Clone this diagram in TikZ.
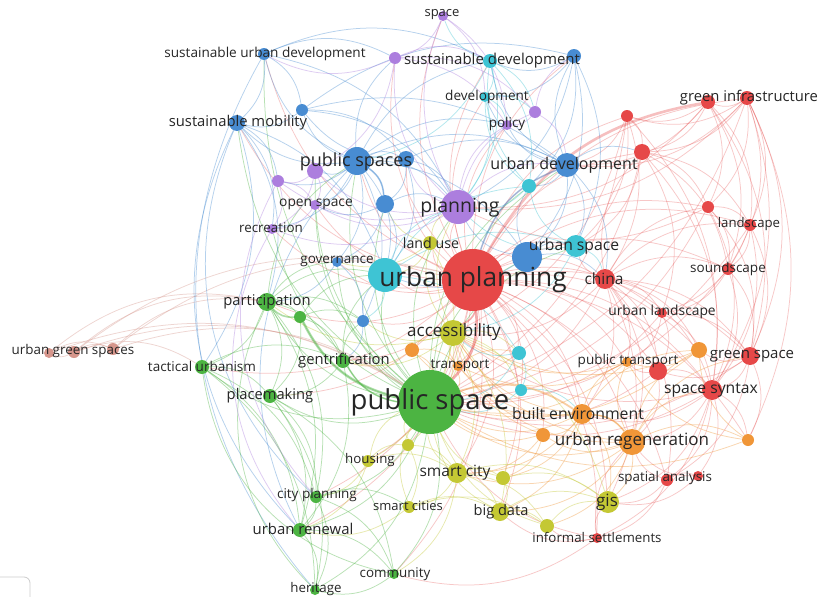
\documentclass[tikz,border=0pt]{standalone}
\usepackage{fontspec}
\setmainfont{Open Sans}
\usetikzlibrary{backgrounds}
\definecolor{vred}{RGB}{230,72,72}
\definecolor{vgreen}{RGB}{76,180,66}
\definecolor{vblue}{RGB}{72,140,210}
\definecolor{vyellow}{RGB}{196,200,52}
\definecolor{vpurple}{RGB}{172,126,222}
\definecolor{vcyan}{RGB}{62,196,212}
\definecolor{vorange}{RGB}{240,150,56}
\definecolor{vbrown}{RGB}{214,150,140}
\tikzset{%
  kw/.style     = {circle, inner sep=0pt, minimum size=#1},%
  lbl/.style    = {inner sep=0pt, text=black!85, font=\fontsize{#1}{#1}\selectfont},%
  link/.style   = {line width=0.75pt, opacity=0.4, bend left=25},%
  strong/.style = {line width=2.6pt, opacity=0.45, bend left=25}%
}

\begin{document}
\begin{tikzpicture}[x=1pt,y=-1pt]
  \useasboundingbox (0,0) rectangle (820,597);
  % red cluster
  \node[kw=62, fill=vred] (up) at (473,280) {};
  \node[kw=20, fill=vred] (china) at (605,279) {};
  \node[kw=14, fill=vred] (gi) at (747,98) {};
  \node[kw=14, fill=vred] (r1) at (708,102) {};
  \node[kw=12, fill=vred] (r2) at (627,116) {};
  \node[kw=16, fill=vred] (r3) at (642,152) {};
  \node[kw=12, fill=vred] (r4) at (708,207) {};
  \node[kw=12, fill=vred] (land) at (750,225) {};
  \node[kw=12, fill=vred] (sound) at (728,269) {};
  \node[kw=10, fill=vred] (ul) at (662,313) {};
  \node[kw=18, fill=vred] (gs) at (750,356) {};
  \node[kw=18, fill=vred] (r5) at (658,371) {};
  \node[kw=20, fill=vred] (ss) at (712,390) {};
  \node[kw=12, fill=vred] (sa) at (667,480) {};
  \node[kw=10, fill=vred] (r6) at (698,476) {};
  \node[kw=10, fill=vred] (is) at (597,538) {};
  % orange cluster
  \node[kw=20, fill=vorange] (be) at (582,414) {};
  \node[kw=26, fill=vorange] (ur) at (632,442) {};
  \node[kw=14, fill=vorange] (o1) at (543,435) {};
  \node[kw=12, fill=vorange] (o2) at (748,440) {};
  \node[kw=16, fill=vorange] (o3) at (699,350) {};
  \node[kw=10, fill=vorange] (pt) at (627,362) {};
  \node[kw=14, fill=vorange] (o4) at (412,350) {};
  \node[kw=10, fill=vorange] (tr) at (458,366) {};
  % yellow cluster
  \node[kw=26, fill=vyellow] (acc) at (453,333) {};
  \node[kw=14, fill=vyellow] (lu) at (430,243) {};
  \node[kw=12, fill=vyellow] (hous) at (368,461) {};
  \node[kw=12, fill=vyellow] (y1) at (408,445) {};
  \node[kw=20, fill=vyellow] (sc) at (457,473) {};
  \node[kw=14, fill=vyellow] (y2) at (503,478) {};
  \node[kw=12, fill=vyellow] (scs) at (409,507) {};
  \node[kw=18, fill=vyellow] (bd) at (500,512) {};
  \node[kw=14, fill=vyellow] (y3) at (547,526) {};
  \node[kw=22, fill=vyellow] (gis) at (608,502) {};
  % green cluster
  \node[kw=64, fill=vgreen] (ps) at (430,402) {};
  \node[kw=18, fill=vgreen] (part) at (267,302) {};
  \node[kw=12, fill=vgreen] (g1) at (300,317) {};
  \node[kw=14, fill=vgreen] (gent) at (343,361) {};
  \node[kw=14, fill=vgreen] (tu) at (202,367) {};
  \node[kw=14, fill=vgreen] (pm) at (270,396) {};
  \node[kw=12, fill=vgreen] (cp) at (316,497) {};
  \node[kw=14, fill=vgreen] (ren) at (300,530) {};
  \node[kw=10, fill=vgreen] (com) at (394,574) {};
  \node[kw=10, fill=vgreen] (her) at (315,590) {};
  % blue cluster
  \node[kw=28, fill=vblue] (pss) at (357,161) {};
  \node[kw=16, fill=vblue] (b1) at (406,159) {};
  \node[kw=18, fill=vblue] (b2) at (385,204) {};
  \node[kw=10, fill=vblue] (gov) at (337,262) {};
  \node[kw=12, fill=vblue] (b3) at (363,321) {};
  \node[kw=24, fill=vblue] (ud) at (567,165) {};
  \node[kw=30, fill=vblue] (b4) at (527,257) {};
  \node[kw=12, fill=vblue] (sud) at (264,54) {};
  \node[kw=12, fill=vblue] (b5) at (302,110) {};
  \node[kw=16, fill=vblue] (sm) at (237,123) {};
  \node[kw=14, fill=vblue] (b6) at (574,56) {};
  % cyan cluster
  \node[kw=34, fill=vcyan] (c0) at (385,275) {};
  \node[kw=22, fill=vcyan] (us) at (576,246) {};
  \node[kw=14, fill=vcyan] (c1) at (529,186) {};
  \node[kw=14, fill=vcyan] (sd) at (490,61) {};
  \node[kw=10, fill=vcyan] (dev) at (485,97) {};
  \node[kw=14, fill=vcyan] (c2) at (519,353) {};
  \node[kw=12, fill=vcyan] (c3) at (521,390) {};
  % purple cluster
  \node[kw=34, fill=vpurple] (pl) at (458,207) {};
  \node[kw=10, fill=vpurple] (space) at (443,16) {};
  \node[kw=12, fill=vpurple] (p1) at (395,58) {};
  \node[kw=12, fill=vpurple] (p2) at (535,112) {};
  \node[kw=10, fill=vpurple] (pol) at (507,125) {};
  \node[kw=16, fill=vpurple] (p3) at (315,171) {};
  \node[kw=12, fill=vpurple] (p4) at (278,181) {};
  \node[kw=10, fill=vpurple] (os) at (315,205) {};
  \node[kw=10, fill=vpurple] (rec) at (272,229) {};
  % brown cluster
  \node[kw=12, fill=vbrown] (ugs) at (74,352) {};
  \node[kw=10, fill=vbrown] (br1) at (49,353) {};
  \node[kw=12, fill=vbrown] (br2) at (113,349) {};

  % labels
  \node[lbl=26.3] (upt) at (up) {urban planning};
  \node[lbl=27.5] (pst) at (ps) {public space};
  \node[lbl=19.5] (plt) at (460,207) {planning};
  \node[lbl=18] (psst) at (356,162) {public spaces};
  \node[lbl=16] (udt) at (564,165) {urban development};
  \node[lbl=17] (urt) at (632,441) {urban regeneration};
  \node[lbl=17] (acct) at (454,332) {accessibility};
  \node[lbl=15.7] (ust) at (574,246) {urban space};
  \node[lbl=15.5] (sct) at (455,473) {smart city};
  \node[lbl=15.7] (sst) at (711,390) {space syntax};
  \node[lbl=15.8] (bet) at (578,414) {built environment};
  \node[lbl=17] (gist) at (607,502) {gis};
  \node[lbl=15.5] (chinat) at (604,279) {china};
  \node[lbl=15] (gst) at (752,356) {green space};
  \node[lbl=14.6] (bdt) at (501,512) {big data};
  \node[lbl=14.8] (git) at (749,98) {green infrastructure};
  \node[lbl=15] (sdt) at (492,61) {sustainable development};
  \node[lbl=14.8] (smt) at (238,123) {sustainable mobility};
  \node[lbl=14.8] (partt) at (267,302) {participation};
  \node[lbl=14.8] (gentt) at (344,361) {gentrification};
  \node[lbl=14.7] (pmt) at (270,396) {placemaking};
  \node[lbl=13.5] (tut) at (202,366) {tactical urbanism};
  \node[lbl=13.4] (ugst) at (73,351) {urban green spaces};
  \node[lbl=14.2] (lut) at (431,243) {land use};
  \node[lbl=13.5] (govt) at (337,261) {governance};
  \node[lbl=13.8] (ost) at (316,204) {open space};
  \node[lbl=13.4] (rect) at (271,228) {recreation};
  \node[lbl=13.6] (sudt) at (265,54) {sustainable urban development};
  \node[lbl=13] (spacet) at (442,15) {space};
  \node[lbl=13.6] (devt) at (487,97) {development};
  \node[lbl=13.5] (polt) at (507,124) {policy};
  \node[lbl=13.8] (ult) at (662,312) {urban landscape};
  \node[lbl=13.5] (ptt) at (628,361) {public transport};
  \node[lbl=13.5] (soundt) at (728,269) {soundscape};
  \node[lbl=13.2] (landt) at (749,224) {landscape};
  \node[lbl=13.5] (trt) at (460,366) {transport};
  \node[lbl=13.4] (sat) at (665,478) {spatial analysis};
  \node[lbl=13.3] (ist) at (597,537) {informal settlements};
  \node[lbl=13.3] (houst) at (370,460) {housing};
  \node[lbl=13] (scst) at (408,506) {smart cities};
  \node[lbl=13.5] (cpt) at (317,495) {city planning};
  \node[lbl=14.9] (rent) at (303,529) {urban renewal};
  \node[lbl=13.4] (comt) at (395,574) {community};
  \node[lbl=13.3] (hert) at (316,589) {heritage};

  \begin{pgfonlayer}{background}
    \fill[white] (0,0) rectangle (820,597);
    % red links
    \foreach \a/\b in {up/china, up/ud, up/b4, up/us, up/pl, up/pss, up/c0, up/lu, up/gi, up/r2,
      up/r3, up/r4, up/land, up/sound, up/ul, up/gs, up/r5, up/ss, up/sa, up/is, up/be, up/ur,
      up/o1, up/o2, up/o3, up/pt, up/tr, up/gis, up/bd, up/sc, up/hous, up/part, up/gent, up/pm,
      up/tu, up/cp, up/ren, up/com, up/sm, up/sud, up/sd, up/dev, up/pol, up/space, up/p1,
      up/rec, up/os, up/gov, up/b3, up/c2, up/c3, up/y2, up/b6, up/b1,
      china/ul, china/r5, china/ss, china/gs, china/sound, china/land, china/r4, china/r3,
      china/ur, china/be, china/pt, china/gis, china/ps, china/acc, china/us, china/o3, china/sa,
      gi/r1, gi/r2, gi/r3, gi/land, gi/r4, gi/gs, gi/ss, gi/sound, gi/ud, gi/ps, gi/o2, gi/pl,
      r1/r2, r1/r3, r1/land, r1/sound, r1/r4, r1/ud, r1/pl, r1/gs,
      r2/r3, r2/ud, r2/us, r2/china, r2/ss, r2/ps, r2/acc,
      r3/r4, r3/land, r3/sound, r3/ul, r3/ss, r3/us, r3/ps,
      r4/land, r4/sound, r4/ss, r4/gs, r4/ps, r4/pl,
      land/sound, land/gs, land/ss, land/ul, land/ps,
      sound/gs, sound/ss, sound/ul, sound/ps,
      ul/ss, ul/r5, ul/pt, ul/gs, ul/ps,
      gs/ss, gs/o3, gs/r5, gs/o2, gs/sa, gs/ps,
      r5/ss, r5/pt, r5/ur, r5/ps,
      ss/sa, ss/r6, ss/ur, ss/o2, ss/is, ss/gis, ss/be, ss/ps, ss/acc,
      sa/r6, sa/gis, sa/is, sa/ur, r6/ur, r6/gis,
      is/gis, is/y3, is/bd, is/ps, is/com, is/ur}
      \draw[link, vred, opacity=0.3] (\a) to (\b);
    % orange links
    \foreach \a/\b in {be/ur, be/o1, be/ps, be/acc, be/pt, be/o3, be/gis, be/tr, be/o4, be/y2,
      be/bd, be/sc, ur/o1, ur/o2, ur/gis, ur/pt, ur/o3, ur/ps, ur/acc, ur/tr, ur/sc, ur/bd,
      ur/y3, ur/gs, ur/ss, o1/ps, o1/sc, o1/y2, o1/acc, o2/o3, o2/pt, o2/ps,
      o3/pt, o3/ps, o3/acc, pt/tr, pt/acc, pt/ps, o4/ps, o4/acc, o4/gent, o4/tr,
      tr/ps, tr/acc, tr/c2}
      \draw[link, vorange] (\a) to (\b);
    % yellow links
    \foreach \a/\b in {acc/ps, acc/lu, acc/sc, acc/bd, acc/gis, acc/gent, acc/pl, acc/c2,
      acc/c3, acc/hous, acc/y1, acc/part, acc/b3, lu/pl, lu/ps, lu/b2, lu/c0, lu/gov,
      hous/ps, hous/y1, hous/sc, hous/cp, hous/ren, y1/ps, y1/sc, y1/scs,
      sc/ps, sc/bd, sc/scs, sc/gis, sc/y2, sc/y3, sc/com, y2/bd, y2/gis, y2/ps,
      scs/bd, scs/ren, scs/y3, scs/ps, bd/gis, bd/y3, bd/ps, y3/gis, y3/ps}
      \draw[link, vyellow] (\a) to (\b);
    % green links
    \foreach \a/\b in {ps/part, ps/g1, ps/gent, ps/tu, ps/pm, ps/cp, ps/ren, ps/com, ps/her,
      ps/pss, ps/pl, ps/c0, ps/b3, ps/gov, ps/sm, ps/sud, ps/b2, ps/us, ps/ud, ps/rec,
      ps/os, ps/b4, ps/c1, ps/p3,
      part/g1, part/tu, part/pm, part/gent, part/c0, part/pss, part/b3, part/gov, part/cp,
      part/ren, g1/gent, g1/c0, g1/b3, g1/pm, gent/pm, gent/c0, gent/b3, gent/ren,
      tu/pm, tu/gent, tu/her, tu/ren, tu/cp, pm/cp, pm/ren, pm/com, pm/her,
      cp/ren, cp/com, cp/her, cp/scs, ren/her, ren/com, com/her}
      \draw[link, vgreen] (\a) to (\b);
    % blue links
    \foreach \a/\b in {pss/b1, pss/b2, pss/p3, pss/p4, pss/os, pss/rec, pss/gov, pss/c0,
      pss/pl, pss/sm, pss/b5, pss/sud, pss/ud, pss/b4, pss/b3, pss/p1, pss/pol, pss/sd,
      b1/b2, b1/pl, b1/c0, b1/ud, b1/b5, b2/pl, b2/c0, b2/gov, b2/os,
      gov/c0, gov/b3, gov/part, b3/c0, b3/gent,
      ud/b4, ud/us, ud/c1, ud/b6, ud/sd, ud/dev, ud/pol, ud/r3, ud/china,
      b4/us, b4/c1, b4/pl, b4/c0, b4/china, sud/b5, sud/sm, sud/p1, sud/pl, sud/sd,
      b5/sm, b5/b1, b5/b6, b5/ud, b5/pl, sm/p4, sm/rec, sm/c0, sm/tu, sm/part,
      b6/sd, b6/c1, b6/dev, b6/b4, b6/us, b6/pl}
      \draw[link, vblue] (\a) to (\b);
    % cyan links
    \foreach \a/\b in {c0/pl, c0/us, c0/c1, c0/c2, c0/b3, us/c1, us/china, us/pl, us/acc,
      c1/pl, c1/dev, c1/sd, sd/dev, sd/p2, sd/space, sd/c1, sd/pl, sd/pss,
      dev/pol, dev/p2, dev/pl, c2/c3, c2/ps, c2/acc, c3/ps, c3/be}
      \draw[link, vcyan] (\a) to (\b);
    % purple links
    \foreach \a/\b in {pl/p1, pl/p2, pl/pol, pl/p3, pl/p4, pl/os, pl/rec, pl/space, pl/ud,
      pl/b1, space/p1, space/pol, space/dev, p1/p2, p1/pol, p1/p3, p1/sud, p1/sd,
      p2/pol, p2/ud, p2/b6, p3/p4, p3/os, p3/rec, p4/os, p4/rec, os/rec}
      \draw[link, vpurple] (\a) to (\b);
    % brown links
    \foreach \a/\b in {ugs/br1, ugs/br2, ugs/part, ugs/ps, ugs/up, ugs/tu, br1/br2, br1/part,
      br1/ps, br2/part, br2/ps, br2/up}
      \draw[link, vbrown] (\a) to (\b);
    % wide arcs on the left
    \foreach \a/\b/\c in {ren/sm/vblue, her/sud/vblue, her/part/vgreen, ren/rec/vpurple,
      cp/p4/vpurple, com/tu/vgreen, ren/pss/vblue, cp/sm/vblue}
      \draw[link, \c, bend left=35] (\a) to (\b);
    % strong links
    \draw[strong, vred, opacity=0.35] (up) to (r1);
    \draw[strong, vred] (up) to (ps);
    \draw[strong, vred, line width=1.6pt] (up) to (acc);
    \draw[strong, vgreen] (ps) to (g1);
    \draw[strong, vgreen, line width=1.6pt] (g1) to (part);
    \draw[strong, vgreen, line width=1.6pt] (ps) to (gent);
    \draw[strong, vorange, line width=1.8pt] (ps) to (be);
    \draw[strong, vorange, line width=1.6pt] (be) to (ur);
    \draw[strong, vblue, line width=1.6pt] (pss) to (b2);
    \draw[strong, vblue, line width=1.6pt] (up) to (ud);
  \end{pgfonlayer}

  % frame corner at bottom left
  \draw[black!20, line width=0.8pt, rounded corners=6pt] (0,577) -- (30,577) -- (30,600);
\end{tikzpicture}
\end{document}
